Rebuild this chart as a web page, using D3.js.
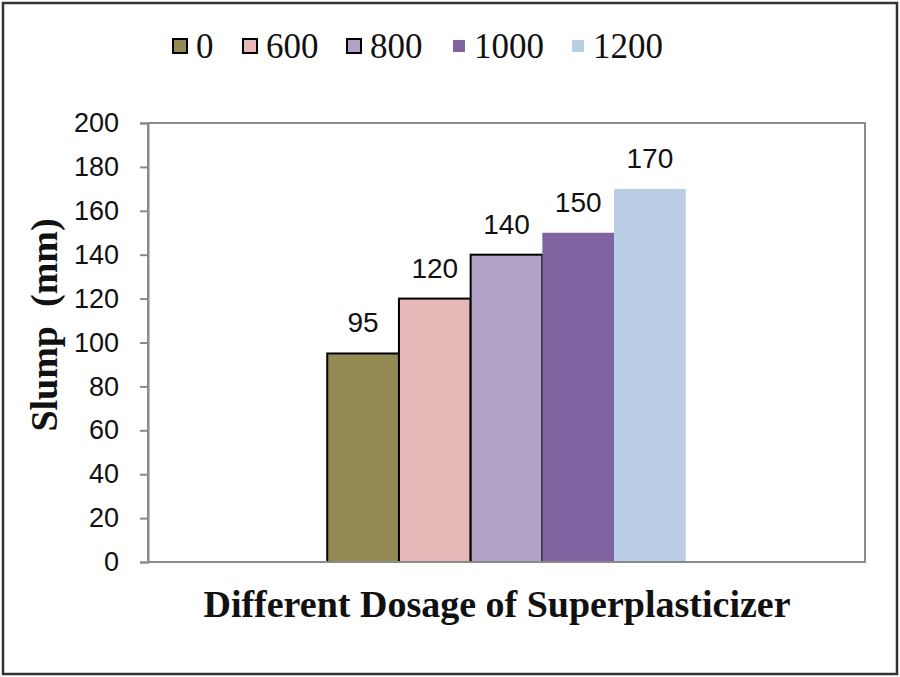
<!DOCTYPE html>
<html>
<head>
<meta charset="utf-8">
<script src="https://cdn.jsdelivr.net/npm/d3@7"></script>
<style>
  body { margin: 0; background: #fff; }
  svg { display: block; }
</style>
</head>
<body>
<div id="chart"></div>
<script>
// dosage series (one bar per dosage)
const dosages = ['0', '600', '800', '1000', '1200'];
const slump = [95, 120, 140, 150, 170];
const colors = ['#948A54', '#E6B9B8', '#B3A2C7', '#8064A2', '#B9CDE5'];
const outlined = [true, true, true, false, false];
const yTicks = [0, 20, 40, 60, 80, 100, 120, 140, 160, 180, 200];

const width = 900, height = 677;
const margin = { top: 123, right: 35, bottom: 115, left: 148 };

const svg = d3.select('#chart').append('svg')
    .attr('width', width)
    .attr('height', height);

// outer frame
svg.append('rect')
    .attr('x', 3).attr('y', 3)
    .attr('width', width - 6).attr('height', height - 6)
    .attr('fill', '#fff')
    .attr('stroke', '#333')
    .attr('stroke-width', 2.5);

const plotW = width - margin.left - margin.right;
const plotH = height - margin.top - margin.bottom;

const y = d3.scaleLinear().domain([0, 200]).range([margin.top + plotH, margin.top]);

// single category, bars take half of the width in the middle
const x0 = d3.scaleBand().domain(['all']).range([margin.left, margin.left + plotW]).paddingInner(0).paddingOuter(0.5);
const x1 = d3.scaleBand().domain(dosages).range([x0('all'), x0('all') + x0.bandwidth()]);

// plot area border
svg.append('rect')
    .attr('x', margin.left).attr('y', margin.top)
    .attr('width', plotW).attr('height', plotH)
    .attr('fill', 'none')
    .attr('stroke', '#8a8a8a')
    .attr('stroke-width', 2);

const yAxis = svg.append('g')
    .attr('transform', `translate(${margin.left},0)`)
    .call(d3.axisLeft(y).tickValues(yTicks).tickSize(8).tickPadding(21));
yAxis.select('.domain').attr('stroke', '#8a8a8a').attr('stroke-width', 2);
yAxis.selectAll('.tick line').attr('stroke', '#8a8a8a').attr('stroke-width', 2);
yAxis.selectAll('.tick text')
    .attr('font-family', 'Liberation Sans, Arial, sans-serif')
    .attr('font-size', 27)
    .attr('fill', '#111');

// bars
const bars = dosages.map((d, i) => ({ d, v: slump[i], c: colors[i], o: outlined[i] }));

svg.selectAll('rect.bar')
    .data(bars)
    .enter().append('rect')
    .attr('class', 'bar')
    .attr('x', b => x1(b.d))
    .attr('y', b => y(b.v))
    .attr('width', x1.bandwidth())
    .attr('height', b => y(0) - y(b.v))
    .attr('fill', b => b.c)
    .attr('stroke', b => b.o ? '#000' : 'none')
    .attr('stroke-width', 2);

svg.selectAll('text.val')
    .data(bars)
    .enter().append('text')
    .attr('class', 'val')
    .attr('x', b => x1(b.d) + x1.bandwidth() / 2)
    .attr('y', b => y(b.v) - 21)
    .attr('text-anchor', 'middle')
    .attr('font-family', 'Liberation Sans, Arial, sans-serif')
    .attr('font-size', 28)
    .attr('fill', '#111')
    .text(b => b.v);

// bottom axis line on top of bars
svg.append('line')
    .attr('x1', margin.left).attr('x2', margin.left + plotW)
    .attr('y1', y(0)).attr('y2', y(0))
    .attr('stroke', '#8a8a8a').attr('stroke-width', 2);

// legend
const legendX = [173, 243, 347, 453, 572];
const legend = svg.append('g');
bars.forEach((b, i) => {
    const g = legend.append('g').attr('transform', `translate(${legendX[i]},46)`);
    const s = b.o ? 14 : 12;
    g.append('rect')
        .attr('x', 0).attr('y', -s / 2)
        .attr('width', s).attr('height', s)
        .attr('fill', b.c)
        .attr('stroke', b.o ? '#000' : 'none')
        .attr('stroke-width', 2);
    g.append('text')
        .attr('x', s + 9).attr('y', 12)
        .attr('font-family', 'Liberation Serif, Times New Roman, serif')
        .attr('font-size', 35)
        .attr('fill', '#111')
        .text(b.d);
});

// axis titles
svg.append('text')
    .attr('transform', 'translate(57,325) rotate(-90)')
    .attr('text-anchor', 'middle')
    .attr('font-family', 'Liberation Serif, Times New Roman, serif')
    .attr('font-weight', 'bold')
    .attr('font-size', 38)
    .attr('fill', '#111')
    .attr('xml:space', 'preserve')
    .text('Slump  (mm)');

svg.append('text')
    .attr('x', 497)
    .attr('y', 617)
    .attr('text-anchor', 'middle')
    .attr('font-family', 'Liberation Serif, Times New Roman, serif')
    .attr('font-weight', 'bold')
    .attr('font-size', 38)
    .attr('fill', '#111')
    .text('Different Dosage of Superplasticizer');
</script>
</body>
</html>
